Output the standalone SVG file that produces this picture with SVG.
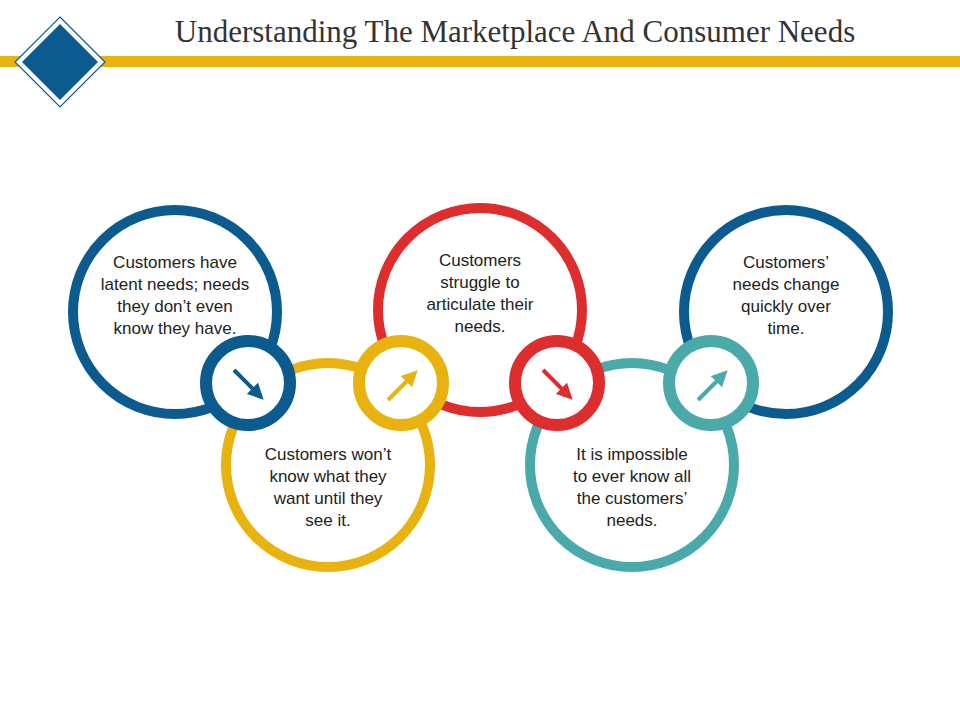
<svg xmlns="http://www.w3.org/2000/svg" width="960" height="720" viewBox="0 0 960 720">
<style>
.big{fill:none;stroke-width:10}
.small{fill:#fff;stroke-width:12}
.t{font-family:"Liberation Sans",Arial,sans-serif;font-size:17px;fill:#222;text-anchor:middle}
.ar{stroke-width:4;fill:none}
</style>
<defs>
<marker id="ab" viewBox="0 0 10 10" refX="5" refY="5" markerWidth="4" markerHeight="4" orient="auto"><path d="M0,0L10,5L0,10z" fill="#0b5b8f"/></marker>
<marker id="ay" viewBox="0 0 10 10" refX="5" refY="5" markerWidth="4" markerHeight="4" orient="auto"><path d="M0,0L10,5L0,10z" fill="#e8b30e"/></marker>
<marker id="ar" viewBox="0 0 10 10" refX="5" refY="5" markerWidth="4" markerHeight="4" orient="auto"><path d="M0,0L10,5L0,10z" fill="#dd2d2d"/></marker>
<marker id="at" viewBox="0 0 10 10" refX="5" refY="5" markerWidth="4" markerHeight="4" orient="auto"><path d="M0,0L10,5L0,10z" fill="#4aa9a9"/></marker>
</defs>
<rect width="960" height="720" fill="#fff"/>
<g id="header">
<rect x="0" y="56" width="960" height="11" fill="#e8b30e"/>
<polygon points="60,17 105,62 60,107 15,62" fill="#fff" stroke="#0b5b8f" stroke-width="1.2"/>
<polygon points="60,24 98,62 60,100 22,62" fill="#0b5b8f"/>
<text x="515" y="42" font-family="Liberation Serif,serif" font-size="31" fill="#333" text-anchor="middle">Understanding The Marketplace And Consumer Needs</text>
</g>
<g id="n1"><circle class="big" cx="175" cy="312" r="102" stroke="#0b5b8f"/>
<text class="t"><tspan x="175" y="268">Customers have</tspan><tspan x="175" y="290">latent needs; needs</tspan><tspan x="175" y="312">they don’t even</tspan><tspan x="175" y="334">know they have.</tspan></text></g>
<g id="n2"><circle class="big" cx="328" cy="465" r="102" stroke="#e8b30e"/>
<text class="t"><tspan x="328" y="460">Customers won’t</tspan><tspan x="328" y="482">know what they</tspan><tspan x="328" y="504">want until they</tspan><tspan x="328" y="526">see it.</tspan></text></g>
<g id="n3"><circle class="big" cx="480" cy="310" r="102" stroke="#dd2d2d"/>
<text class="t"><tspan x="480" y="266">Customers</tspan><tspan x="480" y="288">struggle to</tspan><tspan x="480" y="310">articulate their</tspan><tspan x="480" y="332">needs.</tspan></text></g>
<g id="n4"><circle class="big" cx="632" cy="465" r="102" stroke="#4aa9a9"/>
<text class="t"><tspan x="632" y="460">It is impossible</tspan><tspan x="632" y="482">to ever know all</tspan><tspan x="632" y="504">the customers’</tspan><tspan x="632" y="526">needs.</tspan></text></g>
<g id="n5"><circle class="big" cx="786" cy="312" r="102" stroke="#0b5b8f"/>
<text class="t"><tspan x="786" y="268">Customers’</tspan><tspan x="786" y="290">needs change</tspan><tspan x="786" y="312">quickly over</tspan><tspan x="786" y="334">time.</tspan></text></g>
<g id="connectors">
<circle class="small" cx="248" cy="383" r="42" stroke="#0b5b8f"/>
<line class="ar" x1="234" y1="370" x2="258" y2="394" stroke="#0b5b8f" marker-end="url(#ab)"/>
<circle class="small" cx="401" cy="383" r="42" stroke="#e8b30e"/>
<line class="ar" x1="388" y1="400" x2="412" y2="376" stroke="#e8b30e" marker-end="url(#ay)"/>
<circle class="small" cx="557" cy="383" r="42" stroke="#dd2d2d"/>
<line class="ar" x1="543" y1="370" x2="567" y2="394" stroke="#dd2d2d" marker-end="url(#ar)"/>
<circle class="small" cx="711" cy="383" r="42" stroke="#4aa9a9"/>
<line class="ar" x1="698" y1="400" x2="722" y2="376" stroke="#4aa9a9" marker-end="url(#at)"/>
</g>
</svg>
